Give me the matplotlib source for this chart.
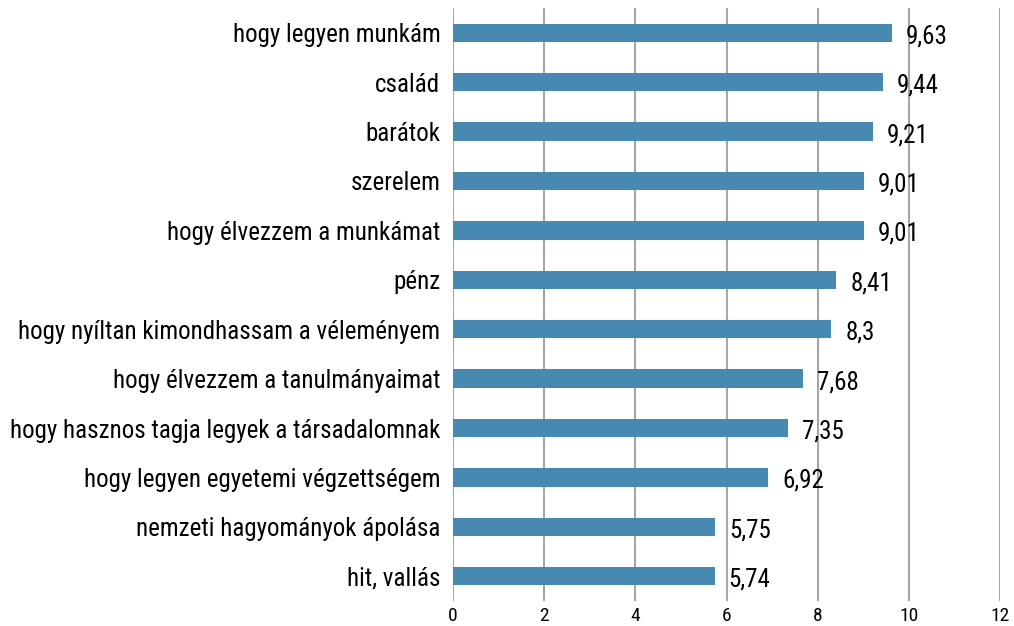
import numpy as np
import matplotlib.pyplot as plt

plt.rcParams['font.family'] = ['Roboto Condensed', 'Liberation Sans Narrow', 'Roboto', 'DejaVu Sans']

# Kategóriák és átlagértékek (felülről lefelé)
kategoriak = ['hogy legyen munkám', 'család', 'barátok', 'szerelem',
              'hogy élvezzem a munkámat', 'pénz',
              'hogy nyíltan kimondhassam a véleményem',
              'hogy élvezzem a tanulmányaimat',
              'hogy hasznos tagja legyek a társadalomnak',
              'hogy legyen egyetemi végzettségem',
              'nemzeti hagyományok ápolása', 'hit, vallás']
ertekek = [9.63, 9.44, 9.21, 9.01, 9.01, 8.41, 8.3, 7.68, 7.35, 6.92, 5.75, 5.74]
cimkek = ['9,63', '9,44', '9,21', '9,01', '9,01', '8,41', '8,3', '7,68',
          '7,35', '6,92', '5,75', '5,74']
xtick_ertekek = [0, 2, 4, 6, 8, 10, 12]

fig = plt.figure(figsize=(10.14, 6.26), dpi=100)
ax = fig.add_axes([453/1014, 1 - 601/626, 547/1014, 593/626])

y = np.arange(len(kategoriak))
ax.barh(y, ertekek, height=0.37, color='#4789b0', zorder=3)

for yi, v, c in zip(y, ertekek, cimkek):
    ax.annotate(c, (v, yi), xytext=(10, -2.5), textcoords='offset points',
                va='center', ha='left', fontsize=18, color='black')

ax.set_xlim(0, 12)
ax.set_ylim(len(kategoriak) - 0.5, -0.5)
ax.set_xticks(xtick_ertekek)
ax.set_xticklabels([str(t) for t in xtick_ertekek], fontsize=14)
ax.set_yticks(y)
ax.set_yticklabels(kategoriak, fontsize=18)
ax.tick_params(length=0, pad=9)
ax.tick_params(axis='x', pad=4)
ax.grid(axis='x', color='#a6a6a6', linewidth=1.5, zorder=0)
for s in ax.spines.values():
    s.set_visible(False)

plt.savefig('out.png', dpi=100)
